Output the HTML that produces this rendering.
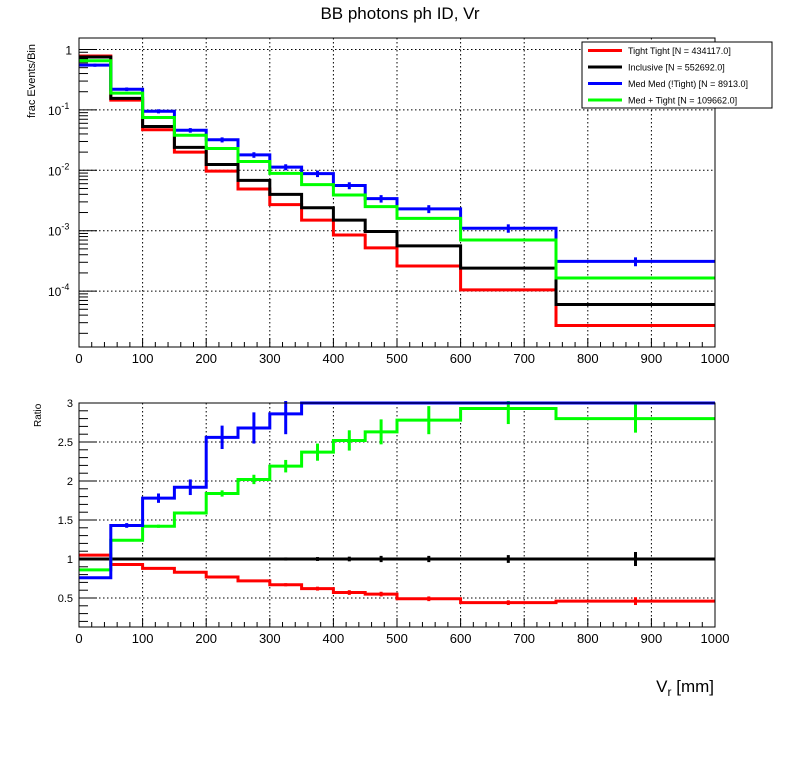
<!DOCTYPE html>
<html><head><meta charset="utf-8"><style>
body{margin:0;background:#fff;width:796px;height:772px;overflow:hidden;font-family:"Liberation Sans",sans-serif}
</style></head><body>
<svg id="c" width="796" height="772" xmlns="http://www.w3.org/2000/svg" font-family="Liberation Sans, sans-serif"></svg>
<script>
const edges=[0,50,100,150,200,250,300,350,400,450,500,600,750,1000];
const seriesNames=["Tight Tight [N = 434117.0]","Inclusive [N = 552692.0]","Med Med (!Tight) [N = 8913.0]","Med + Tight [N = 109662.0]"];
const colors=["#ff0000","#000000","#0000ff","#00ff00"];
const redTop=[0.78,0.145,0.047,0.020,0.0097,0.0049,0.0027,0.0015,0.00085,0.00052,0.00026,0.000105,0.000027];
const blackTop=[0.75,0.155,0.053,0.024,0.0125,0.0068,0.0040,0.0024,0.0015,0.00097,0.00056,0.00024,0.00006];
const blueTop=[0.55,0.22,0.095,0.046,0.032,0.018,0.0113,0.0088,0.0056,0.0034,0.0023,0.0011,0.00031];
const greenTop=[0.65,0.19,0.075,0.038,0.023,0.014,0.0089,0.0058,0.0039,0.0025,0.0016,0.0007,0.000165];
const redRatio=[1.05,0.93,0.88,0.83,0.77,0.72,0.67,0.62,0.57,0.55,0.49,0.44,0.46];
const blackRatio=[1,1,1,1,1,1,1,1,1,1,1,1,1];
const blueRatio=[0.76,1.43,1.78,1.92,2.56,2.68,2.86,3.3,3.4,3.5,3.6,3.8,4.0];
const greenRatio=[0.86,1.24,1.42,1.59,1.84,2.02,2.19,2.37,2.52,2.63,2.78,2.93,2.80];
const blueRatioErr=[0.01,0.03,0.06,0.1,0.15,0.2,0.26,0.3,0.35,0.4,0.45,0.5,0.6];
const greenRatioErr=[0.005,0.01,0.02,0.02,0.04,0.06,0.08,0.11,0.13,0.16,0.18,0.2,0.18];
const blackRatioErr=[0,0,0,0,0.005,0.01,0.02,0.025,0.03,0.04,0.04,0.05,0.09];
const redRatioErr=[0.003,0.005,0.005,0.008,0.01,0.015,0.02,0.025,0.03,0.03,0.03,0.03,0.05];
const xTicks=[0,100,200,300,400,500,600,700,800,900,1000];
const logTicks=[0,-1,-2,-3,-4];
const ratioTicks=[0.5,1,1.5,2,2.5,3];
const ratioTickLabels=["0.5","1","1.5","2","2.5","3"];

const svg=document.getElementById('c');const NS="http://www.w3.org/2000/svg";
function el(t,a,p){const e=document.createElementNS(NS,t);for(const k in a)e.setAttribute(k,a[k]);(p||svg).appendChild(e);return e;}
const X0=79,X1=715;
const xs=v=>X0+(X1-X0)*v/1000;
const T0=38,T1=347; const yTop=v=>49.5-60.4*Math.log10(v);
const B0=403,B1=627; const RMAX=3; const yBot=v=>637-78*v;

function frame(name){
  const g=el('g',{});
  return g;
}
function drawPanel(g,y0,y1,yf,gridVals,clipId){
  xTicks.forEach(t=>{if(t>0&&t<1000){const l=el('line',{x1:xs(t),x2:xs(t),y1:y0,y2:y1,stroke:'#000','stroke-dasharray':'1.5,2.5','stroke-width':1},g);}});
  gridVals.forEach(v=>{const y=yf(v);if(y>y0+1&&y<y1){const l=el('line',{x1:X0,x2:X1,y1:y,y2:y,stroke:'#000','stroke-dasharray':'1.5,2.5','stroke-width':1},g);}});
  for(let t=0;t<=1000;t+=20){const big=t%100==0;el('line',{x1:xs(t),x2:xs(t),y1:y1,y2:y1-(big?9:5),stroke:'#000'},g);}
  xTicks.forEach(t=>{const tx=el('text',{x:xs(t),y:y1+16,'font-size':13,'text-anchor':'middle'},g);tx.textContent=t;});
  el('defs',{},g).innerHTML=`<clipPath id="${clipId}"><rect x="${X0}" y="${y0-2}" width="${X1-X0}" height="${y1-y0+2}"/></clipPath>`;
}
function drawSeries(g,vals,errs,yf,color,clipId,name,vmax){
  let d='';
  const cl=v=>vmax!==undefined?Math.min(v,vmax):v;
  vals.forEach((v,i)=>{const y=yf(cl(v));d+=(i==0?'M':'L')+xs(edges[i])+','+y+'L'+xs(edges[i+1])+','+y;});
  const gg=el('g',{'clip-path':`url(#${clipId})`},g);
  
  el('path',{d:d,fill:'none',stroke:color,'stroke-width':3},gg);
  vals.forEach((v,i)=>{if(vmax!==undefined&&v>vmax)return;const xc=xs((edges[i]+edges[i+1])/2);const e=errs[i];
    const l=el('line',{x1:xc,x2:xc,y1:yf(v+e),y2:yf(Math.max(v-e,1e-9)),stroke:color,'stroke-width':3},gg);
    });
}
let t=el('text',{x:400,y:19,'font-size':17,'text-anchor':'middle'});t.textContent='BB photons ph ID, Vr';

const gt=frame('top-panel');
drawPanel(gt,T0,T1,yTop,logTicks.map(p=>Math.pow(10,p)),'clipT');
for(let p=-5;p<=0;p++)for(let m=1;m<10;m++){const v=m*Math.pow(10,p);const y=yTop(v);if(y>T0&&y<T1)el('line',{x1:X0,x2:X0+(m==1?18:9),y1:y,y2:y,stroke:'#000'},gt);}
logTicks.forEach(p=>{const y=yTop(Math.pow(10,p));const tx=el('text',{x:p==0?72:60,y:y+5,'font-size':12,'text-anchor':'end'},gt);
  if(p==0)tx.textContent='1';else{tx.innerHTML=`<tspan>10</tspan><tspan dy="-6" font-size="9">${p}</tspan>`;tx.setAttribute('x',48);tx.setAttribute('text-anchor','start');}
  });
const topVals=[redTop,blackTop,blueTop,greenTop];
const topErrFrac=[0.01,0.01,0.06,0.02];
[0,1,2,3].forEach(k=>{drawSeries(gt,topVals[k],topVals[k].map((v,i)=>v*topErrFrac[k]*(1+i*0.15)),yTop,colors[k],'clipT','top-series-'+k);});
el('rect',{x:X0,y:T0,width:X1-X0,height:T1-T0,fill:'none',stroke:'#000','stroke-width':1},gt);
t=el('text',{transform:'translate(35,118) rotate(-90)','font-size':11,'text-anchor':'start'},gt);t.textContent='frac Events/Bin';

const lg=el('g',{});
el('rect',{x:582,y:42,width:190,height:66,fill:'#fff',stroke:'#000'},lg);
seriesNames.forEach((n,i)=>{const y=50+i*16.5;el('line',{x1:588,x2:622,y1:y+0.5,y2:y+0.5,stroke:colors[i],'stroke-width':3},lg);
  const tx=el('text',{x:628,y:y+4,'font-size':9},lg);tx.textContent=n;});

const gb=frame('ratio-panel');
drawPanel(gb,B0,B1,yBot,ratioTicks,'clipB');
for(let v=0.2;v<=3.001;v+=0.1){const y=yBot(v);if(y<B1){const big=Math.abs(v*2-Math.round(v*2))<0.01;el('line',{x1:X0,x2:X0+(big?18:9),y1:y,y2:y,stroke:'#000'},gb);}}
ratioTicks.forEach((v,i)=>{const tx=el('text',{x:73,y:yBot(v)+4,'font-size':11,'text-anchor':'end'},gb);tx.textContent=ratioTickLabels[i];});
const rVals=[redRatio,blackRatio,blueRatio,greenRatio];const rErr=[redRatioErr,blackRatioErr,blueRatioErr,greenRatioErr];
[1,0,3,2].forEach(k=>drawSeries(gb,rVals[k],rErr[k],yBot,colors[k],'clipB','ratio-series-'+k,RMAX));
el('rect',{x:X0,y:B0,width:X1-X0,height:B1-B0,fill:'none',stroke:'#000','stroke-width':1},gb);
t=el('text',{transform:'translate(41,427) rotate(-90)','font-size':10},gb);t.textContent='Ratio';
t=el('text',{x:714,y:692,'font-size':17,'text-anchor':'end'});t.innerHTML='V<tspan dy="4" font-size="12">r</tspan><tspan dy="-4"> [mm]</tspan>';
</script>
</body></html>
